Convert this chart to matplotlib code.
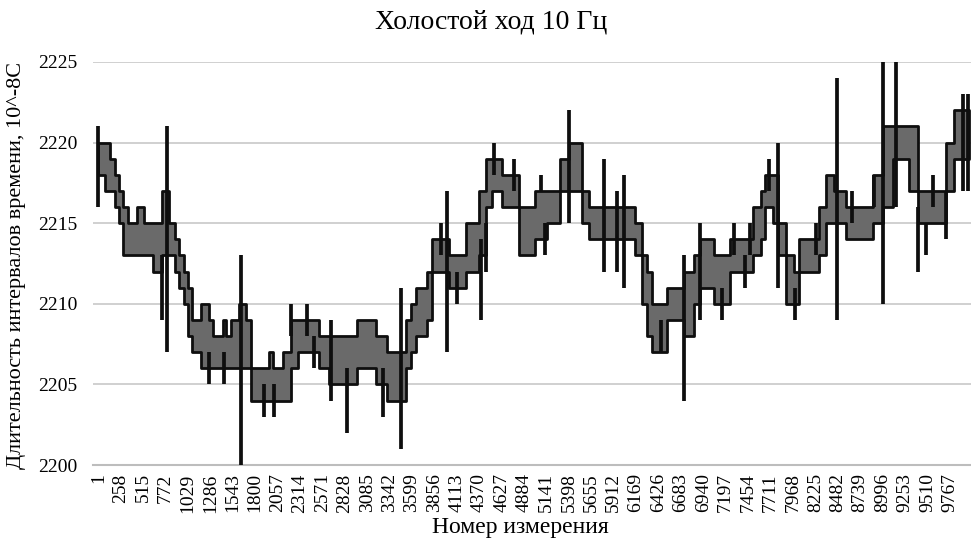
import matplotlib.pyplot as plt
import numpy as np

plt.rcParams['font.family'] = ['Liberation Serif', 'DejaVu Serif']

TITLE = 'Холостой ход 10 Гц'
X_LABEL = 'Номер измерения'
Y_LABEL = 'Длительность интервалов времени, 10^-8С'

# measurement count and tick labels of the category axis
N_TOTAL = 9990
tick_labels = list(range(1, 9768, 257))

# envelope of the dense band: measurement number where a step starts, low and high value
step_start = [1, 81, 139, 196, 242, 288, 346, 449, 530, 633,
              736, 817, 886, 932, 978, 1024, 1070, 1184, 1265, 1322,
              1426, 1460, 1518, 1610, 1690, 1747, 1954, 2000, 2115, 2207,
              2288, 2529, 2644, 2965, 3184, 3310, 3528, 3586, 3643, 3770,
              3827, 4023, 4218, 4367, 4448, 4517, 4631, 4827, 5011, 5149,
              5298, 5401, 5551, 5631, 6160, 6240, 6298, 6355, 6527, 6723,
              6838, 6906, 7067, 7251, 7515, 7596, 7653, 7734, 7791, 7883,
              7975, 8033, 8262, 8343, 8435, 8573, 8883, 8998, 9113, 9296,
              9400, 9722, 9813]
band_low = [2218, 2217, 2217, 2216, 2215, 2213, 2213, 2213, 2213, 2212,
            2213, 2213, 2212, 2211, 2210, 2208, 2207, 2206, 2206, 2206,
            2206, 2206, 2206, 2206, 2206, 2204, 2204, 2204, 2204, 2206,
            2207, 2206, 2205, 2206, 2205, 2204, 2206, 2207, 2208, 2209,
            2212, 2211, 2212, 2213, 2216, 2217, 2216, 2213, 2214, 2215,
            2217, 2217, 2215, 2214, 2213, 2210, 2208, 2207, 2209, 2208,
            2210, 2211, 2210, 2212, 2213, 2214, 2216, 2215, 2213, 2210,
            2210, 2212, 2213, 2215, 2215, 2214, 2215, 2216, 2219, 2217,
            2215, 2217, 2219]
band_high = [2220, 2220, 2219, 2218, 2217, 2216, 2215, 2216, 2215, 2215,
             2217, 2215, 2214, 2213, 2212, 2211, 2209, 2210, 2209, 2208,
             2209, 2208, 2209, 2210, 2209, 2206, 2207, 2206, 2207, 2209,
             2209, 2208, 2208, 2209, 2208, 2207, 2209, 2210, 2211, 2212,
             2214, 2213, 2215, 2217, 2219, 2219, 2218, 2216, 2217, 2217,
             2219, 2220, 2217, 2216, 2215, 2213, 2212, 2210, 2211, 2212,
             2213, 2214, 2213, 2214, 2216, 2217, 2218, 2218, 2215, 2213,
             2212, 2214, 2216, 2218, 2217, 2216, 2218, 2221, 2221, 2221,
             2217, 2220, 2222]

# single outlier spikes: measurement number, low and high value
spike_at = [1, 736, 794, 1265, 1437, 1633, 1897, 2012, 2207, 2391,
            2471, 2667, 2851, 3264, 3471, 3931, 4000, 4115, 4390, 4448,
            4540, 4769, 5080, 5125, 5401, 5803, 5953, 6033, 6458, 6723,
            6906, 7159, 7297, 7423, 7481, 7688, 7791, 7987, 8228, 8469,
            8642, 8894, 8998, 9147, 9400, 9492, 9572, 9722, 9917, 9980]
spike_low = [2216, 2209, 2207, 2205, 2205, 2200, 2203, 2203, 2208, 2208,
             2206, 2204, 2202, 2203, 2201, 2213, 2207, 2210, 2209, 2212,
             2218, 2217, 2217, 2213, 2215, 2212, 2212, 2211, 2207, 2204,
             2209, 2209, 2213, 2211, 2213, 2217, 2211, 2209, 2213, 2209,
             2215, 2216, 2210, 2216, 2212, 2213, 2216, 2214, 2217, 2217]
spike_high = [2221, 2213, 2221, 2207, 2207, 2213, 2205, 2205, 2210, 2210,
              2208, 2209, 2206, 2206, 2211, 2215, 2217, 2212, 2214, 2215,
              2220, 2219, 2218, 2215, 2222, 2219, 2217, 2218, 2209, 2213,
              2215, 2211, 2215, 2213, 2215, 2219, 2220, 2211, 2215, 2224,
              2217, 2218, 2225, 2225, 2216, 2215, 2218, 2217, 2223, 2223]

fig = plt.figure(figsize=(9.71, 5.41), dpi=100)
ax = fig.add_axes([93 / 971, 76 / 541, 878 / 971, 403 / 541])

# band drawn as stepped polygon
xs = np.array(step_start + [N_TOTAL])
lo = np.array(band_low + [band_low[-1]])
hi = np.array(band_high + [band_high[-1]])
ax.fill_between(xs, lo, hi, step='post', facecolor='#6a6a6a',
                edgecolor='#0e0e0e', linewidth=2.0, zorder=3)
ax.vlines(spike_at, spike_low, spike_high, color='#0e0e0e', linewidth=2.7, zorder=4)

ax.set_xlim(-60, 10010)
ax.set_ylim(2200, 2225)
ax.set_yticks(range(2200, 2226, 5))
ax.set_xticks(tick_labels)
ax.set_xticklabels([str(t) for t in tick_labels], rotation=90, fontsize=14)
ax.tick_params(axis='y', length=0, pad=11, labelsize=14)
ax.tick_params(axis='x', length=0, pad=6)

ax.yaxis.grid(True, color='#c8c8c8', linewidth=1.2, zorder=0)
ax.set_axisbelow(True)
for side in ('left', 'right', 'top'):
    ax.spines[side].set_visible(False)
ax.spines['bottom'].set_color('#bdbdbd')
ax.spines['bottom'].set_linewidth(1.5)

fig.text(491 / 971, 1 - 22 / 541, TITLE, ha='center', va='center', fontsize=20)
fig.text(520 / 971, 1 - 527 / 541, X_LABEL, ha='center', va='center', fontsize=17)
fig.text(17 / 971, 1 - 265 / 541, Y_LABEL, ha='center', va='center',
         rotation=90, fontsize=16)

fig.savefig('out.png', dpi=100)
